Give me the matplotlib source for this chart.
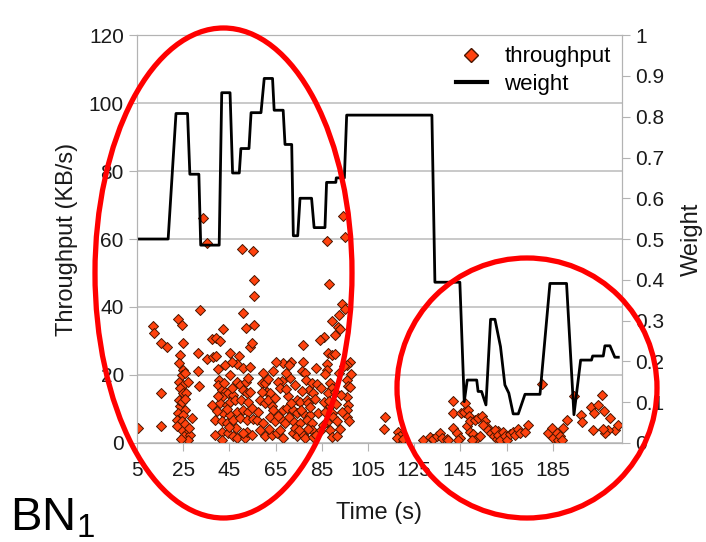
import matplotlib
matplotlib.use("Agg")
import matplotlib.pyplot as plt
from matplotlib.patches import Ellipse
from matplotlib.lines import Line2D

plt.rcParams['font.family'] = ['Liberation Sans', 'DejaVu Sans']
plt.rcParams['mathtext.fontset'] = 'custom'
plt.rcParams['mathtext.rm'] = 'Liberation Sans'
plt.rcParams['mathtext.it'] = 'Liberation Sans'

# throughput samples (time s, KB/s)
tp_t = [33.7, 35.4, 50.3, 55.3, 55.6, 55.6, 32.3, 51.0, 22.9, 24.3, 11.8, 12.4, 42.1, 52.2, 55.6,
        15.3, 18.1, 24.8, 37.3, 39.2, 40.9, 53.9, 54.7, 23.6, 31.5, 35.2, 37.8, 39.2, 45.3, 49.3,
        48.4, 23.3, 40.2, 31.5, 25.0, 24.3, 25.8, 45.3, 40.6, 40.2, 23.3, 25.0, 32.0, 48.2, 49.6,
        52.2, 53.2, 15.3, 23.6, 25.0, 26.2, 41.7, 43.1, 44.5, 46.7, 41.7, 51.0, 52.5, 53.9, 37.3,
        23.6, 25.8, 22.9, 25.0, 40.9, 43.8, 45.3, 47.4, 42.4, 45.3, 48.2, 51.0, 53.2, 54.7, 22.2,
        24.3, 28.7, 5.6, 15.3, 38.8, 41.7, 43.8, 46.7, 49.6, 52.5, 24.3, 26.5, 25.3, 27.9, 27.2,
        41.7, 41.7, 44.5, 46.7, 48.2, 51.8, 52.5, 54.7,
        23.0, 24.6, 26.0, 22.5, 25.6, 27.4, 23.9, 26.9, 39.5, 40.3, 42.9, 44.0, 46.0, 47.9, 50.2,
        50.7, 53.0, 55.3, 43.2, 46.3, 50.8, 54.1, 39.0, 44.9,
        94.1, 95.0, 87.1, 88.2, 93.6, 95.0, 92.6, 89.3, 92.1, 92.9, 86.0, 84.2, 90.7, 77.0, 87.8,
        89.3, 90.7, 97.2, 96.0, 68.1, 71.5, 70.9, 77.0, 87.1, 87.4, 82.5, 76.3, 77.7, 78.2, 59.7,
        59.0, 60.4, 67.6, 66.2, 71.2, 95.8, 96.5, 97.2, 80.6, 82.8, 79.6, 81.3, 88.6, 89.3, 87.8,
        61.1, 62.6, 70.5, 95.8, 96.5, 95.8, 74.1, 75.6, 78.5, 79.2, 58.2, 60.4, 63.3, 64.0, 68.3,
        69.8, 72.7, 74.1, 77.0, 79.9, 88.6, 89.3, 90.0, 56.8, 59.7, 62.6, 64.7, 67.6, 69.1, 72.7,
        75.6, 78.5, 80.6, 91.5, 95.8, 96.9, 87.1, 88.6, 58.2, 60.4, 63.3, 65.5, 68.3, 72.7, 74.1,
        77.0, 77.7, 80.6, 81.3, 89.3, 91.7,
        57.5, 59.0, 61.8, 62.0, 64.9, 65.9, 66.8, 67.0, 69.7, 70.8, 71.9, 73.5, 73.3, 75.9, 76.5,
        78.9, 80.1, 81.9, 83.5, 84.4, 84.8, 85.8, 86.2, 86.6, 88.0, 90.6, 91.0, 92.4, 93.5, 94.5,
        97.8, 93.8, 92.8, 85.5, 82.6, 75.2, 61.6, 63.9, 65.4, 69.4,
        112.4, 112.0, 118.1, 118.8, 119.6, 117.4, 120.2, 128.7, 131.8, 133.3, 134.7, 136.2, 136.9,
        139.1, 139.8, 141.9, 141.9, 145.1, 147.0, 146.6, 148.4, 148.9, 141.9, 143.4, 144.8, 144.1,
        147.7, 149.2, 151.3, 152.8, 154.2, 155.7, 156.4, 154.9, 149.2, 150.6, 152.1, 153.5, 149.9,
        157.1, 158.5, 159.5, 160.7, 161.4, 160.0, 161.4, 162.1, 163.6, 164.3, 165.0, 166.5, 167.9,
        168.6, 170.1, 170.8, 173.0, 174.1, 180.2, 183.1, 184.5, 185.2, 186.7, 187.4, 188.1, 188.9,
        189.5, 191.0, 194.2, 197.2, 197.5, 202.5, 201.8, 202.9, 204.4, 206.4, 207.3, 209.8, 211.9,
        213.4, 209.1, 207.6, 206.9]
tp_v = [66.1, 58.9, 57.0, 56.5, 47.9, 43.2, 39.1, 38.3, 36.5, 34.7, 34.4, 32.2, 33.4, 33.9, 34.7,
        29.3, 28.3, 29.5, 30.5, 30.8, 30.1, 28.3, 29.3, 25.9, 26.5, 24.6, 25.4, 25.6, 26.4, 25.6,
        23.2, 23.4, 21.7, 21.0, 21.5, 20.0, 20.5, 20.0, 18.5, 17.1, 18.0, 17.1, 16.8, 18.0, 17.1,
        18.0, 19.0, 14.8, 16.1, 14.6, 14.8, 15.6, 15.1, 14.6, 14.1, 13.6, 15.6, 14.6, 15.1, 11.2,
        10.7, 9.7, 8.7, 8.2, 11.7, 11.2, 12.1, 12.6, 8.7, 8.2, 9.2, 9.7, 9.2, 10.2, 6.8,
        6.3, 7.3, 4.3, 5.0, 6.8, 6.3, 5.8, 6.8, 7.3, 6.8, 3.8, 2.9, 1.9, 2.4, 0.9,
        3.3, 0.9, 2.9, 1.9, 1.4, 1.4, 3.3, 2.4,
        12.5, 11.9, 12.8, 4.9, 5.5, 4.5, 1.2, 17.9, 9.5, 13.9, 17.5, 9.9, 16.0, 4.4, 12.5,
        3.0, 12.0, 7.1, 22.8, 23.9, 21.9, 22.4, 2.4, 4.8,
        66.7, 60.7, 59.5, 46.7, 40.9, 39.3, 37.6, 36.0, 34.0, 33.4, 31.3, 30.3, 31.8, 28.8, 26.4,
        25.9, 26.2, 23.9, 22.9, 23.4, 23.9, 22.9, 23.9, 23.2, 21.5, 22.0, 21.0, 20.5, 18.5, 20.5,
        17.6, 17.7, 18.3, 18.0, 19.0, 18.5, 16.6, 16.4, 17.7, 17.3, 15.6, 14.6, 17.6, 16.1, 14.6,
        15.1, 14.6, 13.8, 13.6, 11.2, 9.7, 12.6, 12.1, 12.6, 11.7, 12.6, 11.7, 10.7, 9.7, 9.7,
        10.2, 9.7, 8.7, 8.7, 8.2, 10.7, 8.7, 7.7, 6.8, 5.8, 7.7, 6.3, 6.8, 5.8, 6.3,
        5.8, 6.8, 5.8, 6.3, 7.7, 6.3, 6.0, 3.8, 3.8, 1.9, 2.4, 2.9, 1.4, 2.9, 1.9,
        2.4, 1.4, 3.8, 1.7, 1.7, 1.9,
        9.2, 14.9, 12.5, 4.2, 13.3, 8.0, 16.0, 3.9, 15.8, 7.5, 11.8, 16.9, 4.4, 9.8, 15.2,
        4.1, 10.6, 12.8, 8.9, 3.5, 16.2, 12.0, 20.4, 9.1, 12.3, 15.0, 11.5, 20.6, 14.0, 22.5,
        20.3, 9.0, 4.0, 5.2, 2.4, 3.7, 18.9, 21.1, 23.9, 20.6,
        7.6, 4.0, 3.3, 1.9, 0.9, 1.4, 1.1, 0.7, 1.7, 1.1, 2.1, 2.9, 1.4,
        1.1, 0.7, 12.4, 8.9, 8.9, 11.8, 9.2, 9.7, 7.9, 4.3, 2.9, 1.4, 0.9,
        5.0, 6.3, 6.8, 7.3, 7.9, 6.3, 4.8, 5.3, 3.3, 2.6, 1.4, 2.1, 0.9,
        3.8, 2.9, 1.9, 1.1, 3.6, 3.8, 2.4, 0.9, 3.3, 1.9, 0.9, 2.6, 3.3,
        2.4, 4.0, 3.0, 3.3, 5.3, 17.3, 2.9, 4.3, 1.4, 2.9, 0.9, 1.9, 0.7,
        4.3, 6.6, 13.9, 8.2, 6.0, 3.8, 10.5, 8.7, 11.2, 14.1, 9.5, 7.3, 3.8,
        5.3, 3.8, 2.9, 4.1]

# weight trace (time s, weight)
w_t = [5, 18.5, 21.9, 26.9, 27.9, 31.8, 32.6, 40.6, 41.7, 45.3, 46.4, 49.3, 50, 53.5, 54.4,
       58.7, 60.1, 63.7, 64.4, 68.3, 69.1, 72, 72.7, 74.6, 75.6, 80.6, 81.7, 86.4, 87.1, 91.1,
       91.3, 94.8, 95.8, 132.7, 134, 144.8, 146.7, 148, 152.1, 152.7, 154.2, 156.1, 158.1, 160,
       162.4, 164.3, 166, 167.9, 170.1, 173, 179.5, 183.8, 191, 194.2, 197.1, 201.8, 202.3,
       206.9, 207.6, 209.8, 211.9, 213.4]
w_v = [0.5, 0.5, 0.808, 0.808, 0.659, 0.659, 0.485, 0.485, 0.859, 0.859, 0.662, 0.662, 0.722,
       0.722, 0.81, 0.81, 0.894, 0.894, 0.816, 0.816, 0.732, 0.732, 0.508, 0.508, 0.6, 0.6,
       0.528, 0.528, 0.639, 0.639, 0.65, 0.65, 0.804, 0.804, 0.394, 0.394, 0.101, 0.154, 0.154,
       0.126, 0.126, 0.093, 0.303, 0.303, 0.236, 0.142, 0.122, 0.071, 0.071, 0.119, 0.119,
       0.391, 0.391, 0.069, 0.203, 0.203, 0.213, 0.213, 0.238, 0.238, 0.21, 0.21]

x_ticks = list(range(5, 200, 20))
y_ticks = list(range(0, 121, 20))
w_ticks = [i / 10 for i in range(11)]
w_labels = ['0', '0.1', '0.2', '0.3', '0.4', '0.5', '0.6', '0.7', '0.8', '0.9', '1']

fig = plt.figure(figsize=(7.06, 5.42), dpi=100)
ax = fig.add_axes([0.194, 0.183, 0.687, 0.752])
ax.set_xlim(5, 215)
ax.set_ylim(0, 120)
ax.set_xticks(x_ticks)
ax.set_yticks(y_ticks)
ax.grid(axis='y', color='#c0c0c0', lw=1.2)
ax.set_axisbelow(True)
for s in ax.spines.values():
    s.set_color('#b3b3b3')
ax.tick_params(colors='#b3b3b3', labelcolor='#1a1a1a', labelsize=15, length=6)
ax.tick_params(axis='x', pad=7)
ax.scatter(tp_t, tp_v, marker='D', s=26, c='#ff420e', edgecolors='#4a1500',
           linewidths=0.7, zorder=3)
ax.set_xlabel('Time (s)', fontsize=17, color='#1a1a1a', labelpad=16)
ax.set_ylabel('Throughput (KB/s)', fontsize=17, color='#1a1a1a', labelpad=8)

ax2 = ax.twinx()
ax2.plot(w_t, w_v, color='black', lw=2)
ax2.set_ylim(0, 1)
ax2.set_yticks(w_ticks)
ax2.set_yticklabels(w_labels)
for s in ax2.spines.values():
    s.set_color('#b3b3b3')
ax2.tick_params(colors='#b3b3b3', labelcolor='#1a1a1a', labelsize=15, length=6)
ax2.set_ylabel('Weight', fontsize=17, color='#1a1a1a', labelpad=12)

handles = [Line2D([], [], marker='D', ls='none', color='#ff420e', mec='#4a1500', ms=7),
           Line2D([], [], color='black', lw=3)]
ax2.legend(handles, ['throughput', 'weight'], loc='upper right', frameon=False,
           fontsize=16, handlelength=1.4, borderaxespad=0.1, labelspacing=0.3)

# red annotation ellipses and panel label drawn in pixel space
ov = fig.add_axes([0, 0, 1, 1])
ov.set_xlim(0, 706)
ov.set_ylim(542, 0)
ov.axis('off')
ov.add_patch(Ellipse((223.5, 273), 257, 490, fill=False, ec='#ff0000', lw=3.8))
ov.add_patch(Ellipse((527, 388), 260, 260, fill=False, ec='#ff0000', lw=3.8))
ov.text(10, 530, 'BN$_1$', fontsize=34, color='black', ha='left', va='baseline')

fig.savefig('out.png', dpi=100)
